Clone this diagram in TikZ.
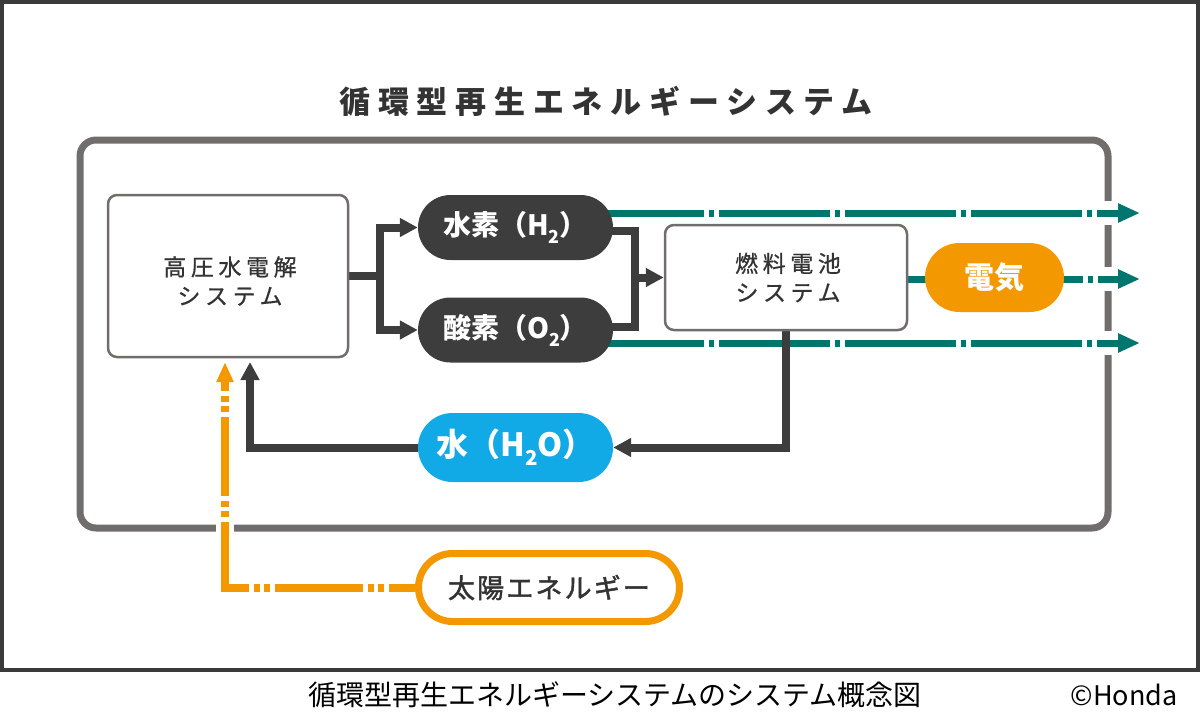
\documentclass[tikz,border=0pt]{standalone}
\usepackage{fontspec}
\setmainfont{Noto Sans CJK JP}
\newfontfamily\jpsp[LetterSpace=20,FakeBold=0.6]{Noto Sans CJK JP}
\newfontfamily\jptitle[LetterSpace=25]{Noto Sans CJK JP}
\newfontfamily\jpsun[LetterSpace=8,FakeBold=1.6]{Noto Sans CJK JP}
\usetikzlibrary{arrows.meta}
\definecolor{dk}{HTML}{3D3D3D}
\definecolor{gr}{HTML}{726D6D}
\definecolor{tealc}{HTML}{00766F}
\definecolor{orng}{HTML}{F39800}
\definecolor{cyanc}{HTML}{12AAE6}
\definecolor{txt}{HTML}{333333}
\definecolor{edgec}{HTML}{3A3A3A}
\newcommand\lowsub[1]{\raisebox{-0.28em}{\fontsize{0.64\fontdimen6\font}{0pt}\selectfont #1}}
\pgfdeclarelayer{back}
\pgfdeclarelayer{mid}
\pgfsetlayers{back,mid,main}
\begin{document}
\begin{tikzpicture}[x=1pt,y=-1pt,
  blk/.style={draw=dk,line width=8pt},
  blkarrow/.style={blk,-{Triangle[length=18pt,width=18pt]}},
  tealdash/.style={draw=tealc,line width=7pt,dash pattern=on 111pt off 5pt on 5pt off 5pt,-{Triangle[length=22pt,width=18pt]}},
  orgdash/.style={draw=orng,line width=8pt,-{Triangle[length=20pt,width=16pt]},
    dash pattern=on 26pt off 5pt on 6pt off 4pt on 6pt off 5pt on 88pt off 5pt on 6pt off 4pt on 6pt off 5pt on 90pt off 5pt on 6pt off 4pt on 6pt off 5pt on 79pt off 5pt on 6pt off 4pt on 6pt off 5pt on 200pt off 1pt},
  sysbox/.style={draw=gr,line width=2.5pt,fill=white,rounded corners=9pt,inner sep=0pt},
  boxtxt/.style={text=txt,align=center,font=\jpsp\fontsize{23}{29}\selectfont,inner sep=0pt},
  pilltxt/.style={inner sep=0pt,text=white,font=\fontsize{28}{28}\selectfont\bfseries},
  darkpill/.style={pilltxt,fill=dk,rounded corners=32.5pt,minimum width=195pt,minimum height=65pt},
]
\useasboundingbox (0,0) rectangle (1200,720);

% frame of the image
\node[draw=edgec,line width=4pt,minimum width=1196pt,minimum height=668pt,inner sep=0pt] (border) at (600,336) {};

% title
\node[text=txt,font=\jptitle\fontsize{31}{31}\selectfont\bfseries,inner sep=0pt] (title) at (606,101) {循環型再生エネルギーシステム};

% caption
\node[text=black,font=\fontsize{28}{28}\selectfont,inner sep=0pt] (cap) at (615,695) {循環型再生エネルギーシステムのシステム概念図};
\node[text=black,font=\fontsize{27}{27}\selectfont,inner sep=0pt] (honda) at (1124,695) {©Honda};

% system frame
\begin{pgfonlayer}{back}
\node[draw=gr,line width=7pt,rounded corners=16pt,minimum width=1028pt,minimum height=388pt,inner sep=0pt] (sys) at (594,334) {};
\end{pgfonlayer}

% nodes
\node[sysbox,minimum width=240pt,minimum height=162pt] (elec) at (228,276) {};
\node[boxtxt] (eleclbl) at (230,281) {高圧水電解\\システム};
\node[sysbox,minimum width=242pt,minimum height=105pt] (fc) at (786,277.5) {};
\node[boxtxt] (fclbl) at (788,277.5) {燃料電池\\システム};
\node[darkpill] (h2) at (515.5,227.5) {水素（H\lowsub{2}）};
\node[darkpill] (o2) at (515.5,330) {酸素（O\lowsub{2}）};
\node[pilltxt,fill=cyanc,rounded corners=34.5pt,minimum width=195pt,minimum height=69pt,font=\fontsize{32}{32}\selectfont\bfseries] (water) at (515.5,447.5) {水（H\lowsub{2}O）};
\node[pilltxt,fill=orng,rounded corners=34.5pt,minimum width=139pt,minimum height=69pt,font=\fontsize{30}{30}\selectfont\bfseries] (elecpill) at (994.5,277.5) {電気};
\node[draw=orng,line width=7pt,fill=white,rounded corners=34pt,minimum width=261pt,minimum height=68pt,inner sep=0pt,text=txt,font=\jpsun\fontsize{27}{27}\selectfont] (sun) at (549,587.5) {太陽エネルギー};

% free ends
\coordinate (t1) at (1140,213);
\coordinate (t2) at (1140,279);
\coordinate (t3) at (1140,343);
\coordinate (wtip) at (250,362);
\coordinate (otip) at (225,362);
\coordinate (mx) at (635,0);
\coordinate (sx) at (380,0);

\begin{pgfonlayer}{mid}
% gaps in the system frame
\fill[white] (1101,201) rectangle (1115,225);
\fill[white] (1101,267) rectangle (1115,291);
\fill[white] (1101,331) rectangle (1115,355);
\fill[white] (216,521) rectangle (234,535);
% teal outputs
\draw[tealdash] ([xshift=-20pt,yshift=14.5pt]h2.east) -- (t1);
\draw[tealdash,dash phase=62pt] (fc.east |- t2) -- (t2);
\draw[tealdash] ([xshift=-20pt,yshift=-13pt]o2.east) -- (t3);
% solar energy
\draw[orgdash] (sun.west) -| (otip);
% black flows
\draw[blk] (elec.east) -- (elec.east -| sx);
\draw[blkarrow] (elec.east -| sx) |- (h2.west);
\draw[blkarrow] (elec.east -| sx) |- (o2.west);
\draw[blk] ([xshift=-10pt,yshift=-3pt]h2.east) -| (fc.west -| mx) |- ([xshift=-10pt,yshift=3pt]o2.east);
\draw[blkarrow] (fc.west -| mx) -- (fc.west);
\draw[blkarrow] (fc.south) |- (water.east);
\draw[blkarrow] (water.west) -| (wtip);
\end{pgfonlayer}
\end{tikzpicture}
\end{document}
